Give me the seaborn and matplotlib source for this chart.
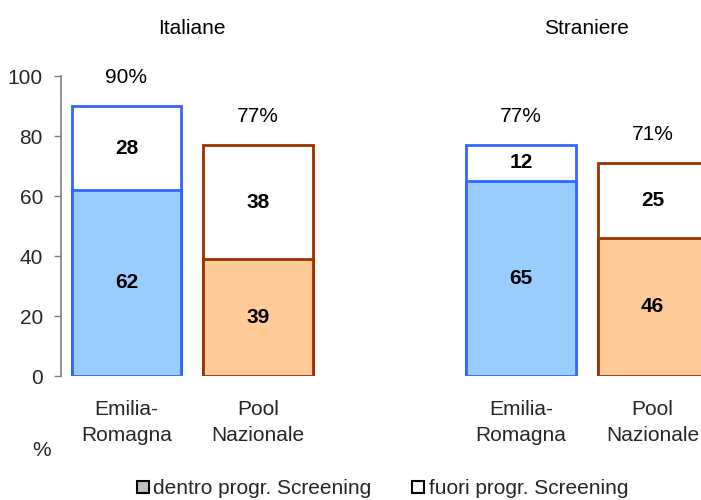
import matplotlib
matplotlib.use("Agg")
import matplotlib.pyplot as plt
import seaborn as sns
import pandas as pd
from matplotlib.lines import Line2D

sns.set_theme(style="white")
plt.rcParams["font.family"] = ["Liberation Sans", "DejaVu Sans"]

# Data
groups = ["Italiane", "Italiane", "Straniere", "Straniere"]
areas = ["Emilia-\nRomagna", "Pool\nNazionale", "Emilia-\nRomagna", "Pool\nNazionale"]
positions = [0, 1, 3, 4]
dentro = [62, 39, 65, 46]
fuori = [28, 38, 12, 25]
totals = [90, 77, 77, 71]

fill_colors = ["#99CCFF", "#FFCC99", "#99CCFF", "#FFCC99"]
edge_colors = ["#3366FF", "#993300", "#3366FF", "#993300"]

df = pd.DataFrame({
    "pos": positions,
    "group": groups,
    "area": areas,
    "dentro": dentro,
    "fuori": fuori,
    "totale": totals,
})

FS = 15

fig = plt.figure(figsize=(7.01, 5.00), dpi=100)
ax = fig.add_axes([61 / 701, 124 / 500, 640 / 701, 300 / 500])

bar_w = 0.836

# Full bar (white) first, then the inner screening share on top of it
sns.barplot(data=df, x="pos", y="totale", native_scale=True, width=bar_w,
            color="white", ax=ax, errorbar=None)
n_total = len(ax.patches)
sns.barplot(data=df, x="pos", y="dentro", native_scale=True, width=bar_w,
            color="#99CCFF", ax=ax, errorbar=None)

for i, p in enumerate(ax.patches[:n_total]):
    p.set_facecolor("white")
    p.set_edgecolor(edge_colors[i])
    p.set_linewidth(2)
for i, p in enumerate(ax.patches[n_total:]):
    p.set_facecolor(fill_colors[i])
    p.set_edgecolor(edge_colors[i])
    p.set_linewidth(2)

# Value labels
for x, d, f, t in zip(positions, dentro, fuori, totals):
    ax.text(x, d / 2, f"{d}", ha="center", va="center", fontsize=FS,
            fontweight="bold", color="black")
    ax.text(x, d + f / 2, f"{f}", ha="center", va="center", fontsize=FS,
            fontweight="bold", color="black")
    ax.text(x, t + 9.5, f"{t}%", ha="center", va="center", fontsize=FS,
            color="black", clip_on=False)

# Group titles
for name in ["Italiane", "Straniere"]:
    xs = [p for p, g in zip(positions, groups) if g == name]
    ax.text(sum(xs) / len(xs), 116, name, ha="center", va="center",
            fontsize=FS, color="black", clip_on=False)

ax.set_xlim(-0.498, 4.369)
ax.set_ylim(0, 100)
ax.set_yticks(range(0, 101, 20))
ax.set_xticks(positions)
ax.set_xticklabels(areas, fontsize=FS, linespacing=1.5)
ax.tick_params(axis="y", labelsize=FS, length=5, width=1, color="#808080",
               direction="out", left=True, pad=8)
ax.tick_params(axis="x", length=0, pad=17)
ax.set_xlabel("")
ax.set_ylabel("")

for s in ["top", "right", "bottom"]:
    ax.spines[s].set_visible(False)
ax.spines["left"].set_color("#808080")
ax.spines["left"].set_linewidth(1.2)

fig.text(42 / 701, 1 - 450 / 500, "%", ha="center", va="center", fontsize=FS)

handles = [
    Line2D([], [], marker="s", linestyle="none", markersize=8,
           markerfacecolor="#C0C0C0", markeredgecolor="black", markeredgewidth=1.5),
    Line2D([], [], marker="s", linestyle="none", markersize=8,
           markerfacecolor="white", markeredgecolor="black", markeredgewidth=1.5),
]
fig.legend(handles, ["dentro progr. Screening", "fuori progr. Screening"],
           loc="center", bbox_to_anchor=(383 / 701, 1 - 489 / 500), ncol=2,
           frameon=False, fontsize=FS, handlelength=0.5, handletextpad=0.25,
           columnspacing=2.0)

fig.savefig("out.png", dpi=100)
